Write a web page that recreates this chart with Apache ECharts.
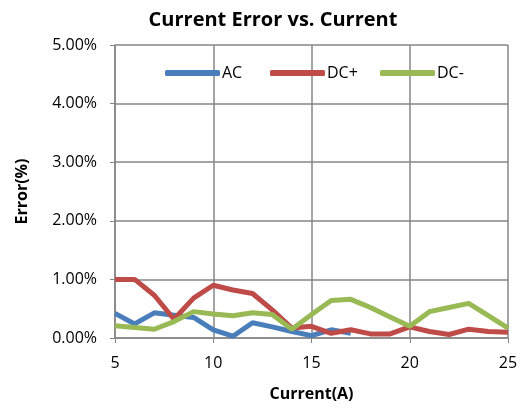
<!DOCTYPE html>
<html lang="en">
<head>
  <meta charset="UTF-8">
  <title>Current Error vs. Current</title>
  <style>
    * { padding: 0; margin: 0; }
    #charts { width: 522px; height: 408px; background: #fff; }
  </style>
</head>
<body>
  <div id="charts"></div>
</body>
<script src="https://cdn.jsdelivr.net/npm/echarts@6/dist/echarts.min.js"></script>
<script type="text/javascript">
  // current (A)
  var currents = [5, 6, 7, 8, 9, 10, 11, 12, 13, 14, 15, 16, 17, 18, 19, 20, 21, 22, 23, 24, 25]
  // error in %
  var acErr = [0.42, 0.24, 0.43, 0.39, 0.35, 0.14, 0.03, 0.26, 0.19, 0.11, 0.04, 0.14, 0.08]
  var dcPlusErr = [1.0, 1.0, 0.73, 0.32, 0.68, 0.90, 0.82, 0.76, 0.48, 0.17, 0.20, 0.08, 0.14, 0.07, 0.07, 0.19, 0.11, 0.06, 0.15, 0.11, 0.10]
  var dcMinusErr = [0.21, 0.18, 0.15, 0.28, 0.45, 0.41, 0.38, 0.43, 0.40, 0.15, 0.40, 0.64, 0.66, 0.52, 0.36, 0.20, 0.45, 0.52, 0.59, 0.38, 0.17]
  var seriesNames = ['AC', 'DC+', 'DC-']

  function pairs(vals) {
    return vals.map(function (v, i) { return [currents[i], v] })
  }

  var myChart = echarts.init(document.getElementById('charts'))
  var font = 'Open Sans, Liberation Sans, sans-serif'
  var legendLeft = [160, 265, 375]
  function legendFor(name, i) {
    return {
      top: 60,
      left: legendLeft[i],
      itemWidth: 55,
      itemHeight: 6,
      icon: 'roundRect',
      textStyle: { fontFamily: font, fontSize: 16, color: '#000', padding: [0, 0, 0, -3] },
      data: [name]
    }
  }
  var option = {
    animation: false,
    title: {
      text: 'Current Error vs. Current',
      left: 268,
      textAlign: 'center',
      top: 5,
      textStyle: { fontFamily: font, fontSize: 20, fontWeight: 'bold', color: '#000' }
    },
    legend: seriesNames.map(legendFor),
    grid: { left: 115, right: 14, top: 45, bottom: 70 },
    xAxis: {
      type: 'value',
      min: 5, max: 25, interval: 5,
      name: 'Current(A)',
      nameLocation: 'middle',
      nameGap: 48,
      nameTextStyle: { fontFamily: font, fontSize: 16, fontWeight: 'bold', color: '#000' },
      axisLine: { lineStyle: { color: '#868686', width: 1.5 } },
      axisTick: { show: true, length: 5, lineStyle: { color: '#868686' } },
      axisLabel: { fontFamily: font, fontSize: 16, color: '#000', margin: 17 },
      splitLine: { show: true, lineStyle: { color: '#868686', width: 1.5 } }
    },
    yAxis: {
      type: 'value',
      min: 0, max: 5, interval: 1,
      name: 'Error(%)',
      nameLocation: 'middle',
      nameGap: 85,
      nameTextStyle: { fontFamily: font, fontSize: 16, fontWeight: 'bold', color: '#000' },
      axisLine: { show: true, lineStyle: { color: '#868686', width: 1.5 } },
      axisTick: { show: true, length: 5, lineStyle: { color: '#868686' } },
      axisLabel: {
        fontFamily: font, fontSize: 16, color: '#000', margin: 18,
        formatter: function (v) { return v.toFixed(2) + '%' }
      },
      splitLine: { show: true, lineStyle: { color: '#868686', width: 1.5 } }
    },
    series: [
      {
        name: seriesNames[0], type: 'line', symbol: 'none',
        itemStyle: { color: '#4a7ebb' },
        lineStyle: { width: 5, color: '#4a7ebb' },
        data: pairs(acErr)
      },
      {
        name: seriesNames[1], type: 'line', symbol: 'none',
        itemStyle: { color: '#be4b48' },
        lineStyle: { width: 5, color: '#be4b48' },
        data: pairs(dcPlusErr)
      },
      {
        name: seriesNames[2], type: 'line', symbol: 'none',
        itemStyle: { color: '#98b954' },
        lineStyle: { width: 5, color: '#98b954' },
        data: pairs(dcMinusErr)
      }
    ]
  }
  myChart.setOption(option)
</script>
</html>
